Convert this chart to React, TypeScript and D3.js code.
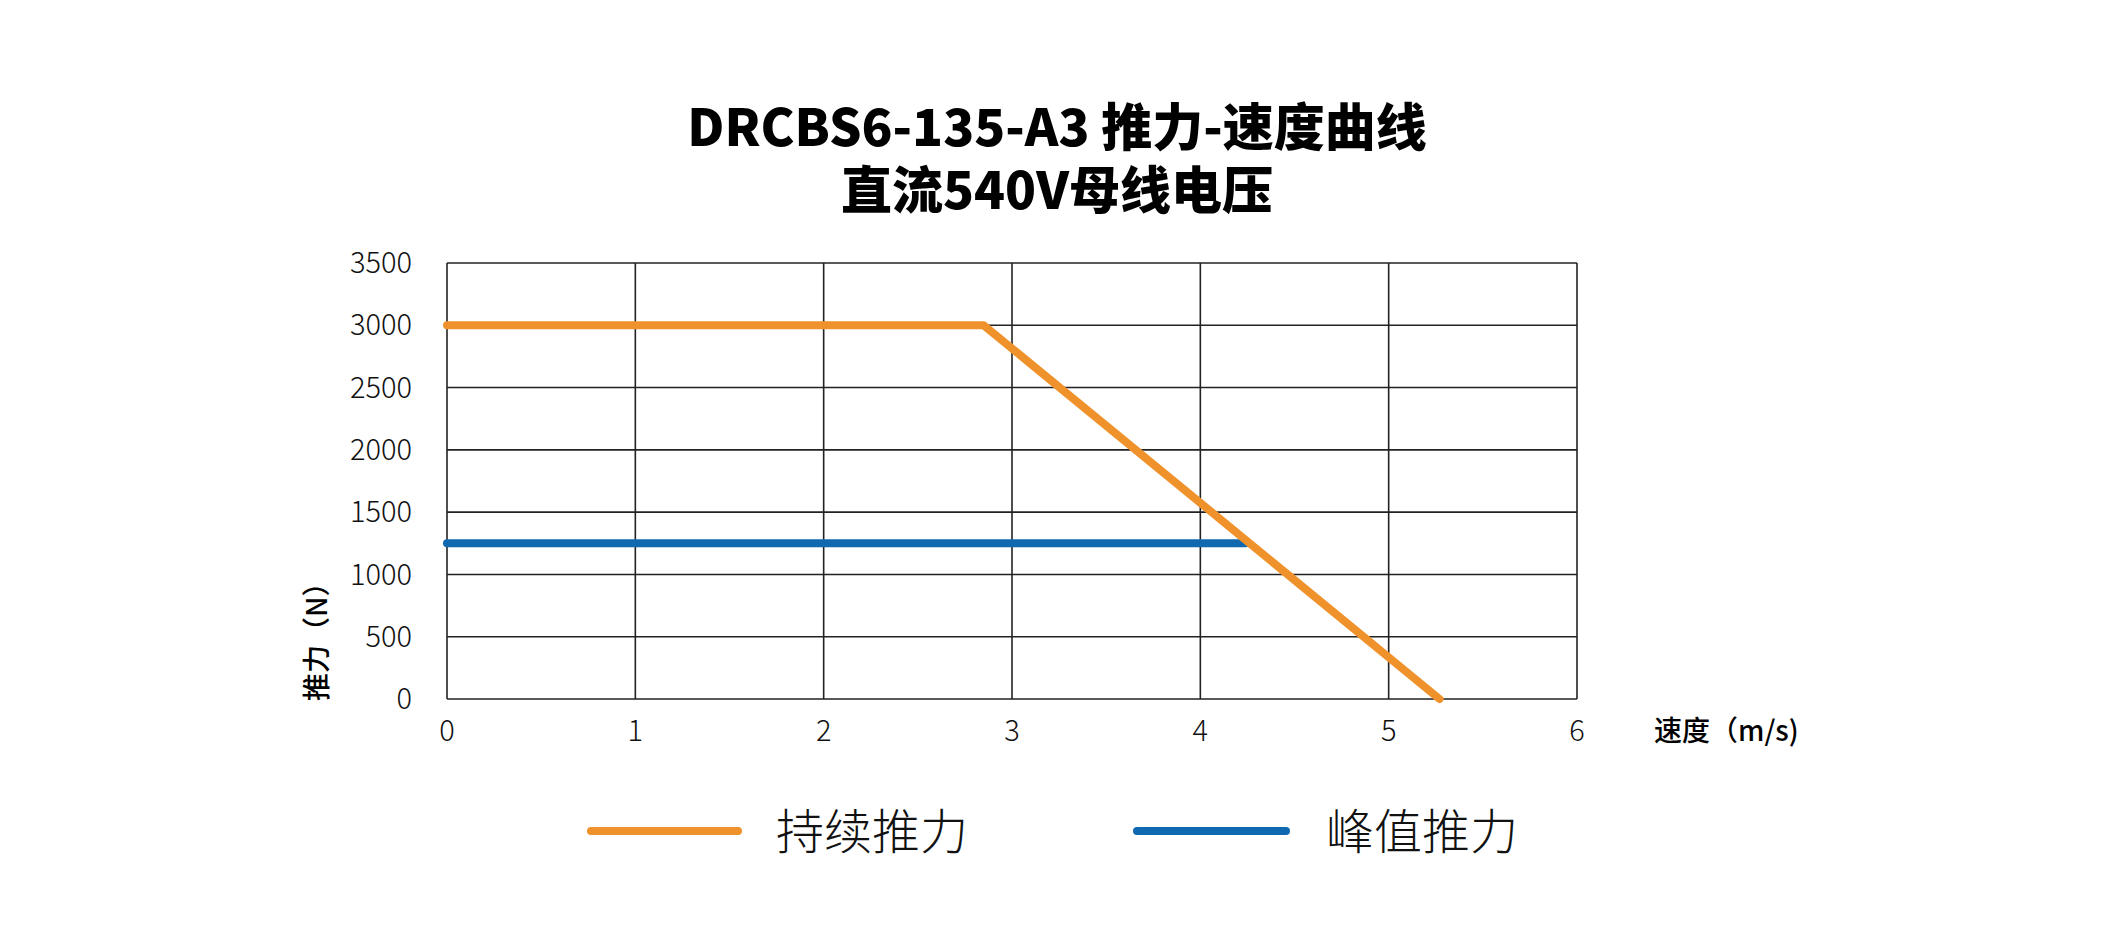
import React from "react";
import * as d3 from "d3";

const titleLines = ["DRCBS6-135-A3 推力-速度曲线", "直流540V母线电压"];
const xTicks = [0, 1, 2, 3, 4, 5, 6];
const yTicks = [0, 500, 1000, 1500, 2000, 2500, 3000, 3500];
const continuousSpeed = [0, 2.85, 5.27];
const continuousForce = [3000, 3000, 0];
const peakSpeed = [0, 4.24];
const peakForce = [1250, 1250];
const seriesNames = ["持续推力", "峰值推力"];
const seriesColors = ["#F0922B", "#1069B0"];
const xAxisLabel = "速度（m/s)";
const yAxisLabel = "推力（N）";

const W = 2115;
const H = 936;
const left = 447;
const top = 263;
const right = 1577;
const bottom = 699;

export default function App() {
  const x = d3.scaleLinear().domain([0, 6]).range([left, right]);
  const y = d3.scaleLinear().domain([0, 3500]).range([bottom, top]);
  const line = d3
    .line<[number, number]>()
    .x((d) => x(d[0]))
    .y((d) => y(d[1]));
  const cont: [number, number][] = continuousSpeed.map((s, i) => [s, continuousForce[i]]);
  const peak: [number, number][] = peakSpeed.map((s, i) => [s, peakForce[i]]);
  const cjk = "'Noto Sans CJK SC', 'Noto Sans', sans-serif";
  const gridColor = "#222";

  const legendItems = [
    { name: seriesNames[0], color: seriesColors[0], x1: 591, x2: 738, tx: 776 },
    { name: seriesNames[1], color: seriesColors[1], x1: 1137, x2: 1286, tx: 1326 },
  ];

  return (
    <svg width={W} height={H} style={{ display: "block", position: "absolute", left: 0, top: 0, background: "#fff" }}>
      <rect x={0} y={0} width={W} height={H} fill="#fff" />
      <text x={1057} y={146} textAnchor="middle" fontFamily={cjk} fontWeight={900} fontSize={51} fill="#000">
        {titleLines[0]}
      </text>
      <text x={1057} y={209} textAnchor="middle" fontFamily={cjk} fontWeight={900} fontSize={51} fill="#000">
        {titleLines[1]}
      </text>

      {yTicks.map((t) => (
        <g key={"y" + t}>
          <line x1={left} x2={right} y1={y(t)} y2={y(t)} stroke={gridColor} strokeWidth={1.6} />
          <text x={412} y={y(t)} dy="0.35em" textAnchor="end" fontFamily={cjk} fontWeight={300} fontSize={29} fill="#111">
            {t}
          </text>
        </g>
      ))}
      {xTicks.map((t) => (
        <g key={"x" + t}>
          <line x1={x(t)} x2={x(t)} y1={top} y2={bottom} stroke={gridColor} strokeWidth={1.6} />
          <text x={x(t)} y={731} dy="0.35em" textAnchor="middle" fontFamily={cjk} fontWeight={300} fontSize={29} fill="#111">
            {t}
          </text>
        </g>
      ))}

      <text x={1654} y={731} dy="0.35em" fontFamily={cjk} fontWeight={500} fontSize={28} fill="#000">
        {xAxisLabel}
      </text>
      <text
        transform={`translate(317,701) rotate(-90)`}
        dy="0.35em"
        textAnchor="start"
        fontFamily={cjk}
        fontWeight={500}
        fontSize={28}
        fill="#000"
      >
        {yAxisLabel}
      </text>

      <path d={line(peak) || ""} fill="none" stroke={seriesColors[1]} strokeWidth={8} strokeLinecap="round" strokeLinejoin="round" />
      <path d={line(cont) || ""} fill="none" stroke={seriesColors[0]} strokeWidth={8} strokeLinecap="round" strokeLinejoin="round" />

      {legendItems.map((it) => (
        <g key={it.name}>
          <line x1={it.x1} x2={it.x2} y1={831} y2={831} stroke={it.color} strokeWidth={8} strokeLinecap="round" />
          <text x={it.tx} y={832} dy="0.35em" fontFamily={cjk} fontWeight={300} fontSize={48} fill="#111">
            {it.name}
          </text>
        </g>
      ))}
    </svg>
  );
}
